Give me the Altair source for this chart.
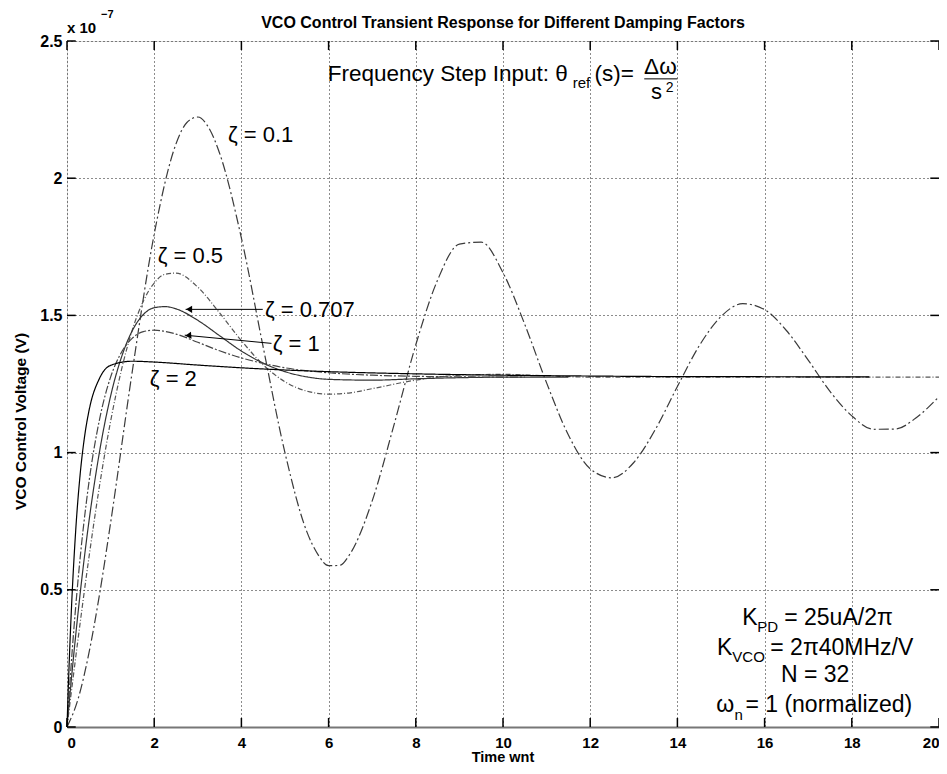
import altair as alt
import pandas as pd

FONT = "Liberation Sans"

# ---- curve data (time in 1/wn, voltage in units of 1e-7 V) ----
t01 = [0, 0.25, 0.5, 0.75, 1, 1.5, 2, 2.5, 2.75, 3, 3.25, 3.5, 4, 4.5, 5, 5.5, 5.75, 6, 6.25, 6.5, 7, 7.5, 8,
       8.5, 9, 9.5, 10, 10.5, 11, 11.5, 12, 12.5, 13, 13.5, 14, 14.5, 15, 15.5, 16, 16.5, 17, 17.5, 18,
       18.5, 19, 19.5, 20]
v01 = [0, 0.100, 0.267, 0.487, 0.744, 1.299, 1.796, 2.125, 2.203, 2.223, 2.184, 2.091, 1.782, 1.384, 0.999,
       0.712, 0.630, 0.588, 0.589, 0.633, 0.824, 1.101, 1.393, 1.629, 1.760, 1.767, 1.656, 1.467, 1.254,
       1.064, 0.941, 0.908, 0.964, 1.086, 1.241, 1.389, 1.496, 1.543, 1.521, 1.445, 1.337, 1.223, 1.134,
       1.085, 1.086, 1.130, 1.204]

t05 = [0, 0.25, 0.5, 0.75, 1, 1.25, 1.5, 1.75, 2, 2.25, 2.5, 3, 3.5, 4, 4.5, 5, 5.5, 6, 6.5, 7, 8, 9, 10,
       11, 12, 14, 16, 18, 20]
v05 = [0, 0.316, 0.614, 0.883, 1.114, 1.302, 1.448, 1.552, 1.618, 1.650, 1.654, 1.603, 1.509, 1.408, 1.320,
       1.258, 1.224, 1.213, 1.218, 1.233, 1.264, 1.282, 1.285, 1.280, 1.275, 1.275, 1.275, 1.275, 1.275]

t07 = [0, 0.125, 0.25, 0.5, 0.75, 1, 1.25, 1.5, 1.75, 2, 2.25, 2.5, 3, 3.5, 4, 4.5, 5, 5.5, 6, 7, 8, 9, 10,
       11.5]
v07 = [0, 0.215, 0.411, 0.745, 1.007, 1.206, 1.348, 1.445, 1.503, 1.528, 1.532, 1.524, 1.482, 1.426, 1.370,
       1.326, 1.295, 1.276, 1.267, 1.264, 1.269, 1.273, 1.275, 1.275]

t1 = [0, 0.125, 0.25, 0.5, 0.75, 1, 1.25, 1.5, 1.75, 2, 2.5, 3, 3.5, 4, 4.5, 5, 6, 7, 8, 9, 10.5]
v1 = [0, 0.290, 0.530, 0.888, 1.124, 1.275, 1.366, 1.417, 1.441, 1.446, 1.432, 1.402, 1.371, 1.345, 1.325,
      1.309, 1.291, 1.282, 1.278, 1.276, 1.275]

t2 = [0, 0.05, 0.1, 0.2, 0.3, 0.4, 0.5, 0.75, 1, 1.5, 2, 3, 4, 5, 6, 8, 10, 12, 14, 16, 18.4]
v2 = [0, 0.233, 0.425, 0.717, 0.918, 1.055, 1.149, 1.272, 1.318, 1.333, 1.330, 1.319, 1.309, 1.301, 1.295,
      1.287, 1.282, 1.279, 1.277, 1.2765, 1.276]

x_ticks = [0, 2, 4, 6, 8, 10, 12, 14, 16, 18, 20]
y_ticks = [0, 0.5, 1, 1.5, 2, 2.5]

curves = [
    ("0.1", t01, v01, "#3a3a3a", [10, 3, 2, 3]),
    ("0.5", t05, v05, "#555555", [5, 2, 1, 2]),
    ("0.707", t07, v07, "#333333", [1, 0]),
    ("1", t1, v1, "#444444", [8, 2, 2, 2]),
    ("2", t2, v2, "#000000", [1, 0]),
]

xs = alt.Scale(domain=[0, 20], nice=False, zero=False)
ys = alt.Scale(domain=[0, 2.5], nice=False, zero=False)

X = alt.X("t:Q", scale=xs,
          axis=alt.Axis(values=x_ticks, grid=True, gridDash=[1, 3], gridColor="#000", gridOpacity=0.9,
                        domain=True, domainColor="#777", domainWidth=2, ticks=False,
                        labelFont=FONT, labelFontSize=15, labelFontWeight="bold", labelColor="#000",
                        labelPadding=8, title=None))
Y = alt.Y("v:Q", scale=ys,
          axis=alt.Axis(values=y_ticks, grid=True, gridDash=[1, 3], gridColor="#000", gridOpacity=0.9,
                        domain=False, ticks=False, labelExpr="datum.value + ''",
                        labelFont=FONT, labelFontSize=16, labelFontWeight="bold", labelColor="#000",
                        labelPadding=5, title="VCO Control Voltage (V)", titleFont=FONT, titleFontSize=15.5,
                        titleFontWeight="bold", titleColor="#000", titleX=-47, titleY=380,
                        titleAngle=-90, titleBaseline="middle", titleAlign="center"))

layers = []
for name, tt, vv, col, dash in curves:
    df = pd.DataFrame({"t": tt, "v": vv})
    layers.append(alt.Chart(df).mark_line(color=col, strokeWidth=1.2, strokeDash=dash,
                                          interpolate="monotone").encode(x=X, y=Y))

# inward tick marks on all four sides
tk = 0.033
tx = 0.2
bt = pd.DataFrame({"t": x_ticks, "v": [0] * len(x_ticks), "v2": [tk] * len(x_ticks)})
tp = pd.DataFrame({"t": x_ticks, "v": [2.5 - tk] * len(x_ticks), "v2": [2.5] * len(x_ticks)})
lt = pd.DataFrame({"v": y_ticks, "t": [0] * len(y_ticks), "t2": [tx] * len(y_ticks)})
rt = pd.DataFrame({"v": y_ticks, "t": [20 - tx] * len(y_ticks), "t2": [20] * len(y_ticks)})
for d in (bt, tp):
    layers.append(alt.Chart(d).mark_rule(color="#000", strokeWidth=1.5).encode(
        x=alt.X("t:Q", scale=xs), y=alt.Y("v:Q", scale=ys), y2="v2:Q"))
for d in (lt, rt):
    layers.append(alt.Chart(d).mark_rule(color="#000", strokeWidth=1.5).encode(
        x=alt.X("t:Q", scale=xs), x2="t2:Q", y=alt.Y("v:Q", scale=ys)))

# arrows for zeta = 0.707 and zeta = 1
arr_id = ["a707", "a707", "a1", "a1"]
arr_t = [4.49, 2.72, 4.69, 2.70]
arr_v = [1.522, 1.522, 1.398, 1.428]
arr = pd.DataFrame({"id": arr_id, "t": arr_t, "v": arr_v})
layers.append(alt.Chart(arr).mark_line(color="#000", strokeWidth=1).encode(
    x=alt.X("t:Q", scale=xs), y=alt.Y("v:Q", scale=ys), detail="id:N"))
head_t = [2.80, 2.78]
head_v = [1.522, 1.427]
head_a = [0, -5]
heads = pd.DataFrame({"t": head_t, "v": head_v, "a": head_a})
layers.append(alt.Chart(heads).mark_point(shape="triangle-left", filled=True, color="#000", size=50,
                                          opacity=1).encode(
    x=alt.X("t:Q", scale=xs), y=alt.Y("v:Q", scale=ys), angle=alt.Angle("a:Q", scale=None)))


def txt(texts, tt, vv, size, align="left", weight="normal", baseline="alphabetic"):
    d = pd.DataFrame({"t": tt, "v": vv, "s": texts})
    return alt.Chart(d).mark_text(font=FONT, fontSize=size, align=align, baseline=baseline,
                                  fontWeight=weight, color="#000", clip=False).encode(
        x=alt.X("t:Q", scale=xs), y=alt.Y("v:Q", scale=ys), text="s:N")


# zeta labels
z_text = ["ζ = 0.1", "ζ = 0.5", "ζ = 0.707", "ζ = 1", "ζ = 2"]
z_t = [3.69, 2.08, 4.54, 4.72, 1.90]
z_v = [2.132, 1.691, 1.494, 1.370, 1.243]
layers.append(txt(z_text, z_t, z_v, 22))

# title, x-axis title and exponent label (outside the plot area)
layers.append(txt(["VCO Control Transient Response for Different Damping Factors"], [10], [2.547], 16,
                  align="center", weight="bold"))
layers.append(txt(["Time wnt"], [10], [-0.127], 14.5, align="center", weight="bold"))
layers.append(txt(["x 10"], [0.0], [2.529], 15, weight="bold"))
layers.append(txt(["−7"], [0.78], [2.585], 11, weight="bold"))

# frequency step input annotation
layers.append(txt(["Frequency Step Input: θ"], [5.98], [2.354], 22.5))
layers.append(txt(["ref"], [11.60], [2.329], 15))
layers.append(txt(["(s)="], [12.10], [2.354], 22.5))
layers.append(txt(["Δω"], [13.61], [2.380], 22.5, align="center"))
layers.append(txt(["s"], [13.52], [2.290], 22, align="center"))
layers.append(txt(["2"], [13.73], [2.314], 14))
fr = pd.DataFrame({"t": [13.24], "t2": [14.0], "v": [2.362]})
layers.append(alt.Chart(fr).mark_rule(color="#000", strokeWidth=1).encode(
    x=alt.X("t:Q", scale=xs), x2="t2:Q", y=alt.Y("v:Q", scale=ys)))

# parameter block (lower right)
layers.append(txt(["K", "K", "ω"], [15.49, 14.91, 14.89], [0.372, 0.262, 0.055], 23))
layers.append(txt(["PD", "VCO", "n"], [15.83, 15.26, 15.31], [0.346, 0.237, 0.026], 15))
layers.append(txt(["= 25uA/2π", "= 2π40MHz/V", "= 1 (normalized)"],
                  [16.45, 16.13, 15.56], [0.372, 0.262, 0.055], 23))
layers.append(txt(["N = 32"], [17.16], [0.164], 23, align="center"))

chart = alt.layer(*layers).properties(
    width=872, height=686,
    padding={"left": 59, "top": 33, "right": 0, "bottom": 38},
    autosize=alt.AutoSizeParams(type="none"),
).configure_view(stroke=None).configure(background="white")

chart.save("out.html", embed_options={"renderer": "svg", "actions": False})
